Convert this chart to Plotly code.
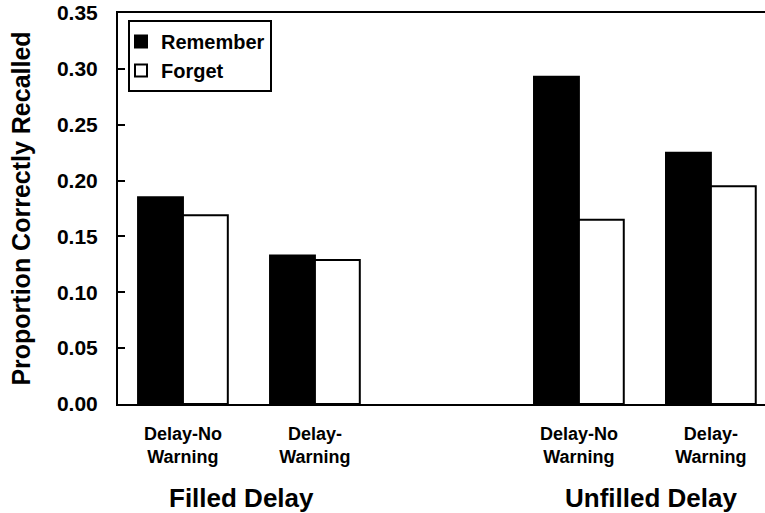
import plotly.graph_objects as go

categories = ["Delay-No<br>Warning", "Delay-<br>Warning", "Delay-No<br>Warning", "Delay-<br>Warning"]
cat_pos = [0, 1, 3, 4]
remember = [0.185, 0.133, 0.293, 0.225]
forget = [0.169, 0.129, 0.165, 0.195]
groups = ["Filled Delay", "Unfilled Delay"]
group_pos = [0.44, 3.55]
y_ticks = [0.0, 0.05, 0.10, 0.15, 0.20, 0.25, 0.30, 0.35]

FONT = "Liberation Sans, Arial, sans-serif"

fig = go.Figure()
fig.add_trace(go.Bar(
    x=cat_pos, y=remember, name="<b>Remember</b>",
    marker=dict(color="black", line=dict(color="black", width=2)),
))
fig.add_trace(go.Bar(
    x=cat_pos, y=forget, name="<b>Forget</b>",
    marker=dict(color="white", line=dict(color="black", width=2)),
))

for g, gx in zip(groups, group_pos):
    fig.add_annotation(
        x=gx, y=-0.24, xref="x", yref="paper", text="<b>%s</b>" % g,
        showarrow=False, font=dict(family=FONT, size=26, color="black"),
        xanchor="center", yanchor="middle",
    )

fig.update_layout(
    width=765, height=513,
    margin=dict(l=118, r=0, t=13, b=109),
    paper_bgcolor="white", plot_bgcolor="white",
    barmode="group", bargap=0.32, bargroupgap=0,
    font=dict(family=FONT, color="black"),
    showlegend=True,
    legend=dict(
        x=10 / 647, y=1 - 7 / 391, xanchor="left", yanchor="top",
        bgcolor="white", bordercolor="black", borderwidth=2,
        font=dict(family=FONT, size=20, color="black"),
        itemsizing="constant", tracegroupgap=0, indentation=-9,
    ),
    xaxis=dict(
        range=[-0.492, 4.41], automargin=False,
        tickmode="array", tickvals=cat_pos,
        ticktext=["<b>%s</b>" % c for c in categories],
        tickfont=dict(family=FONT, size=18, color="black"),
        showline=True, linecolor="black", linewidth=2, mirror=True,
        ticks="", showgrid=False, zeroline=False,
        ticklabelstandoff=12,
    ),
    yaxis=dict(
        range=[0, 0.35], automargin=False,
        tickmode="array", tickvals=y_ticks,
        ticktext=["<b>%.2f</b>" % v for v in y_ticks],
        tickfont=dict(family=FONT, size=21, color="black"),
        ticklabeloverflow="allow",
        showline=True, linecolor="black", linewidth=2, mirror=False,
        ticks="inside", ticklen=7, tickwidth=2, tickcolor="black",
        showgrid=False, zeroline=False,
        ticklabelstandoff=14,
        title=dict(text="<b>Proportion Correctly Recalled</b>",
                   font=dict(family=FONT, size=25, color="black"), standoff=19),
    ),
)

fig.write_html("out.html", config={"displayModeBar": False},
               post_script="document.body.style.margin='0';")
